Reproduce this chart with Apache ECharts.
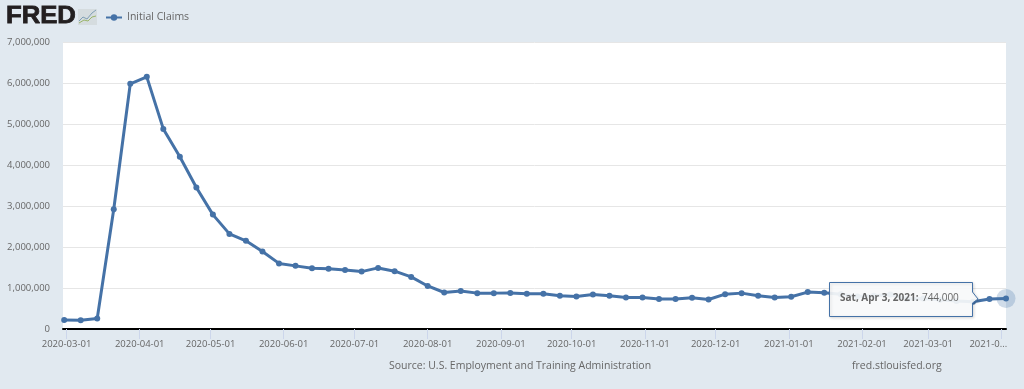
<!DOCTYPE html>
<html>
<head>
<meta charset="utf-8">
<title>Initial Claims</title>
<style>
	html, body { margin: 0; padding: 0; background: #e1e9f0; }
	#chart { width: 1024px; height: 389px; }
</style>
<script src="https://cdn.jsdelivr.net/npm/echarts@6/dist/echarts.min.js"></script>
</head>
<body>
<div id="chart"></div>
<script>
const seriesName = 'Initial Claims';

const weekDates = [
	'2020-02-29', '2020-03-07', '2020-03-14', '2020-03-21', '2020-03-28', '2020-04-04',
	'2020-04-11', '2020-04-18', '2020-04-25', '2020-05-02', '2020-05-09', '2020-05-16',
	'2020-05-23', '2020-05-30', '2020-06-06', '2020-06-13', '2020-06-20', '2020-06-27',
	'2020-07-04', '2020-07-11', '2020-07-18', '2020-07-25', '2020-08-01', '2020-08-08',
	'2020-08-15', '2020-08-22', '2020-08-29', '2020-09-05', '2020-09-12', '2020-09-19',
	'2020-09-26', '2020-10-03', '2020-10-10', '2020-10-17', '2020-10-24', '2020-10-31',
	'2020-11-07', '2020-11-14', '2020-11-21', '2020-11-28', '2020-12-05', '2020-12-12',
	'2020-12-19', '2020-12-26', '2021-01-02', '2021-01-09', '2021-01-16', '2021-01-23',
	'2021-01-30', '2021-02-06', '2021-02-13', '2021-02-20', '2021-02-27', '2021-03-06',
	'2021-03-13', '2021-03-20', '2021-03-27', '2021-04-03'
];

const claims = [
	217000, 211000, 256000, 2920000, 5980000, 6150000,
	4880000, 4200000, 3450000, 2790000, 2320000, 2150000,
	1890000, 1600000, 1540000, 1480000, 1470000, 1440000,
	1400000, 1490000, 1410000, 1270000, 1050000, 890000,
	925000, 875000, 875000, 880000, 860000, 860000,
	810000, 790000, 840000, 810000, 770000, 770000,
	730000, 730000, 765000, 720000, 850000, 875000,
	810000, 770000, 785000, 900000, 885000, 850000,
	790000, 812000, 841000, 731000, 745000, 712000,
	684000, 665000, 730000, 744000
];

const monthTicks = [
	'2020-03-01', '2020-04-01', '2020-05-01', '2020-06-01', '2020-07-01', '2020-08-01',
	'2020-09-01', '2020-10-01', '2020-11-01', '2020-12-01', '2021-01-01', '2021-02-01',
	'2021-03-01', '2021-04-01'
];

const sourceText = 'Source: U.S. Employment and Training Administration';
const siteText = 'fred.stlouisfed.org';
const tipDate = 'Sat, Apr 3, 2021:';
const tipValue = '744,000';

const lineColor = '#4572a7';
const textColor = '#666666';
const fontName = '"Open Sans", sans-serif';

const toTime = ( day ) => Date.parse( day + 'T00:00:00Z' );
const tickTimes = monthTicks.map( toTime );
const lastTick = tickTimes[ tickTimes.length - 1 ];
const points = weekDates.map( ( day, i ) => [ toTime( day ), claims[ i ] ] );
const lastPoint = points[ points.length - 1 ];
// the first point sits a little inside the white frame
const halfDay = 43200000;

const chart = echarts.init( document.getElementById( 'chart' ), null, { renderer: 'canvas' } );

chart.setOption( {
	animation: false,
	backgroundColor: '#e1e9f0',
	textStyle: { fontFamily: fontName },
	grid: {
		left: 63,
		right: 18,
		top: 42,
		bottom: 60,
		show: true,
		backgroundColor: '#ffffff',
		borderWidth: 0
	},
	legend: {
		left: 100,
		top: 7,
		itemWidth: 16,
		itemHeight: 8,
		itemGap: 4,
		textStyle: { color: textColor, fontSize: 10.5, fontFamily: fontName },
		data: [ seriesName ]
	},
	xAxis: {
		// plain value axis over timestamps, so the month ticks can be listed by hand
		type: 'value',
		min: toTime( weekDates[ 0 ] ) - halfDay,
		max: lastPoint[ 0 ],
		axisLine: { show: true, onZero: false, lineStyle: { color: '#000000', width: 2 } },
		axisTick: { show: true, length: 10, customValues: tickTimes, lineStyle: { color: '#ccd6eb', width: 1 } },
		splitLine: { show: false },
		axisLabel: {
			customValues: tickTimes,
			color: textColor,
			fontSize: 9.5,
			fontFamily: fontName,
			margin: 10,
			hideOverlap: false,
			showMinLabel: true,
			showMaxLabel: true,
			formatter: ( value ) => {
				// the last label is cut short and pushed back inside the frame
				if ( value === lastTick ) {
					return '{cut|' + monthTicks[ monthTicks.length - 1 ].slice( 0, 6 ) + '...}';
				}
				return monthTicks[ tickTimes.indexOf( value ) ];
			},
			rich: {
				cut: { color: textColor, fontSize: 9.5, fontFamily: fontName, padding: [ 0, 26, 0, 0 ] }
			}
		}
	},
	yAxis: {
		type: 'value',
		min: 0,
		max: 7000000,
		interval: 1000000,
		axisLine: { show: false },
		axisTick: { show: false },
		splitLine: { lineStyle: { color: '#e6e6e6', width: 1 } },
		axisLabel: {
			color: textColor,
			fontSize: 9.5,
			fontFamily: fontName,
			margin: 13,
			formatter: ( value ) => value.toLocaleString( 'en-US' )
		}
	},
	series: [ {
		name: seriesName,
		type: 'line',
		data: points,
		clip: false,
		symbol: 'circle',
		symbolSize: 6,
		showSymbol: true,
		showAllSymbol: true,
		lineStyle: { color: lineColor, width: 3 },
		itemStyle: { color: lineColor },
		markPoint: {
			silent: true,
			symbol: 'circle',
			symbolSize: 19,
			label: { show: false },
			itemStyle: { color: 'rgba(69,114,167,0.25)' },
			data: [ { coord: lastPoint } ]
		}
	} ],
	graphic: [
		// FRED wordmark
		{
			type: 'text',
			x: 6,
			y: 4,
			scaleX: 1.07,
			style: {
				text: 'FRED',
				fill: '#231f20',
				font: '900 24px "Liberation Sans", sans-serif',
				stroke: '#231f20',
				lineWidth: 0.8
			}
		},
		// small logo swatch next to the wordmark
		{
			type: 'rect',
			shape: { x: 78, y: 9, width: 19, height: 16 },
			style: { fill: '#d5dcdf' }
		},
		{
			type: 'polyline',
			shape: { points: [ [ 79, 21 ], [ 83, 17 ], [ 87, 19 ], [ 92, 13 ], [ 96, 10 ] ] },
			style: { stroke: '#7f9fb5', lineWidth: 1, fill: null }
		},
		{
			type: 'polyline',
			shape: { points: [ [ 79, 23 ], [ 84, 20 ], [ 88, 21 ], [ 92, 17 ], [ 96, 16 ] ] },
			style: { stroke: '#9ab56a', lineWidth: 1, fill: null }
		},
		// footer texts
		{
			type: 'text',
			left: 389,
			top: 361,
			style: { text: sourceText, fill: textColor, font: '10.5px ' + fontName }
		},
		{
			type: 'text',
			left: 852,
			top: 361,
			style: { text: siteText, fill: textColor, font: '10.5px ' + fontName }
		},
		// hover label for the last point
		{
			type: 'polygon',
			z: 100,
			shape: {
				points: [ [ 829.5, 282.5 ], [ 972.5, 282.5 ], [ 972.5, 292 ], [ 978, 299 ], [ 972.5, 303 ], [ 972.5, 316.5 ], [ 829.5, 316.5 ] ]
			},
			style: {
				fill: 'rgba(250,251,252,0.92)',
				stroke: lineColor,
				lineWidth: 1,
				shadowBlur: 3,
				shadowColor: 'rgba(0,0,0,0.15)',
				shadowOffsetX: 1,
				shadowOffsetY: 1
			}
		},
		{
			type: 'text',
			z: 101,
			left: 840,
			top: 292,
			style: {
				text: '{d|' + tipDate + '} {v|' + tipValue + '}',
				rich: {
					d: { fill: textColor, fontFamily: fontName, fontSize: 10, fontWeight: 'bold' },
					v: { fill: textColor, fontFamily: fontName, fontSize: 10 }
				}
			}
		}
	]
} );
</script>
</body>
</html>
